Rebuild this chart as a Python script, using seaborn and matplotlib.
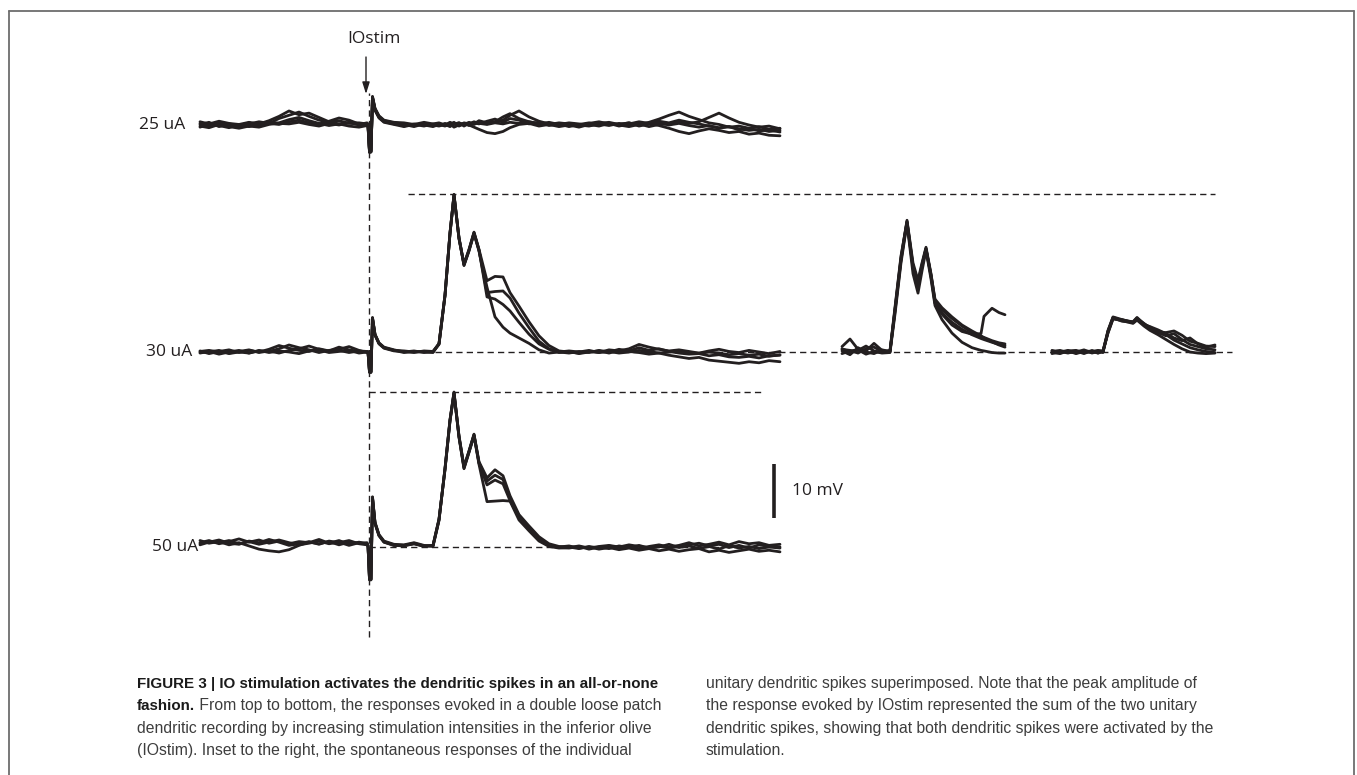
import numpy as np
import pandas as pd
import matplotlib
matplotlib.use("Agg")
import matplotlib.pyplot as plt
import seaborn as sns
from matplotlib.lines import Line2D

sns.set_style("white")
plt.rcParams["font.family"] = ["Open Sans", "DejaVu Sans"]

# ---------------- data (time in ms relative to IO stimulus, voltage in mV) ----------------
T_MAIN = [-16.9, -16, -15, -14, -13, -12, -11, -10, -9, -8, -7, -6, -5, -4, -3, -2, -1, -0.2,
          -0.1, 0.05, 0.2, 0.35, 0.6, 1.0, 1.5, 2.5,
          3.5, 4.5, 5.5, 6.4,
          7.0, 7.6, 8.1, 8.5, 9.0, 9.5, 10.0, 10.5, 11.0, 11.8, 12.6, 13.4, 14.1, 15.0, 16.0, 17.0, 18.0, 19.0,
          20, 21, 22, 23, 24, 25, 26, 27, 28, 29, 30, 31, 32, 33, 34, 35, 36, 37, 38, 39, 40, 41.1]

uA25_a = [0.3, -0.2, 0.4, 0.1, -0.3, 0.2, 0.6, 0.3, 1.2, 1.8, 2.4, 1.6, 0.9, 0.5, 0.8, 0.3, 0.4, 0.2,
          0.1, -5.0, -5.0, 5.2, 3.0, 1.6, 0.8, 0.4,
          0.2, -0.1, 0.3, 0.0,
          -0.2, 0.1, -0.3, 0.2, 0.4, 0.1, 0.5, 0.2, 0.8, 0.4, 0.6, 1.5, 2.1, 1.2, 0.6, 0.3, 0.1, 0.4,
          0.2, -0.1, 0.3, 0.6, 0.2, 0.0, -0.3, 0.1, 0.5, 1.1, 1.8, 2.4, 1.6, 1.0, 0.4, 0.1, -0.4, -0.2, -0.6, -0.3, -0.8, -0.6]
uA25_b = [-0.4, 0.2, -0.1, -0.5, 0.1, -0.3, 0.2, 0.8, 1.6, 2.6, 1.9, 2.2, 1.4, 0.6, 0.2, 0.5, 0.0, 0.3,
          0.0, -5.0, -4.8, 5.0, 2.8, 1.5, 0.7, 0.3,
          -0.2, 0.2, 0.0, -0.3,
          0.1, -0.2, 0.2, -0.4, 0.0, 0.3, -0.1, 0.4, 0.2, 0.7, 1.1, 0.5, 1.2, 0.9, 0.2, 0.5, -0.1, 0.2,
          -0.3, 0.1, 0.4, 0.0, 0.3, -0.2, 0.2, 0.6, 0.3, 0.7, 0.4, 0.9, 0.5, 0.2, -0.2, -0.5, -0.3, -0.9, -0.6, -1.1, -0.9, -1.3]
uA25_c = [0.1, 0.5, -0.3, 0.2, -0.1, 0.4, 0.0, 0.3, 0.1, 0.6, 0.9, 0.4, 0.2, 0.7, 1.3, 0.9, 0.2, -0.1,
          -0.2, -4.9, -4.9, 5.1, 2.9, 1.4, 0.6, 0.2,
          0.1, -0.3, 0.2, 0.1,
          0.3, -0.1, 0.1, 0.5, -0.2, 0.2, 0.0, -0.4, -0.8, -1.4, -1.6, -1.2, -0.5, 0.1, 0.3, -0.2, 0.1, -0.3,
          0.0, -0.4, 0.1, -0.2, 0.3, 0.1, 0.4, 0.0, 0.3, -0.1, -0.6, -1.2, -1.6, -1.1, -0.7, -1.0, -1.4, -1.2, -1.7, -1.5, -1.9, -2.0]
uA25_d = [-0.2, -0.5, 0.1, -0.3, -0.6, -0.2, -0.4, 0.1, 0.4, 1.0, 1.4, 0.8, 0.3, -0.1, 0.2, -0.2, -0.4, -0.1,
          -0.3, -5.1, -5.0, 4.9, 2.7, 1.3, 0.5, 0.1,
          -0.3, 0.1, -0.2, 0.2,
          -0.1, 0.3, 0.0, 0.1, 0.4, -0.2, 0.3, 0.1, 0.5, 0.2, 0.6, 0.9, 1.8, 2.6, 1.5, 0.7, 0.2, -0.1,
          0.3, 0.0, -0.2, 0.2, -0.1, 0.3, 0.0, 0.2, -0.3, 0.1, 0.2, 0.5, 0.3, 0.6, 1.4, 2.2, 1.3, 0.5, 0.0, -0.4, -0.2, -0.7]
uA25_e = [0.6, 0.2, 0.7, 0.3, 0.1, 0.5, 0.2, 0.6, 0.3, 0.2, 0.5, 0.1, -0.2, 0.3, 0.0, 0.4, 0.1, 0.4,
          0.2, -4.8, -4.7, 5.3, 3.1, 1.7, 0.9, 0.5,
          0.4, 0.1, 0.5, 0.2,
          0.4, 0.0, 0.5, 0.2, -0.1, 0.4, 0.2, 0.6, 0.3, 0.1, 0.4, 0.2, 0.5, 0.3, 0.6, 0.2, 0.5, 0.1,
          0.4, 0.2, -0.1, 0.3, 0.5, 0.1, 0.4, -0.2, 0.2, 0.4, 0.0, 0.3, -0.1, -0.4, -0.1, -0.6, -0.3, -0.7, -1.0, -0.8, -1.2, -1.0]

uA30_a = [0.2, -0.3, 0.1, 0.4, -0.1, 0.3, 0.0, 0.5, 1.2, 0.7, 0.3, 0.1, 0.6, 0.2, 0.9, 0.4, 0.1, 0.0,
          0.0, -3.7, -3.7, 6.3, 3.2, 1.6, 0.8, 0.3,
          0.2, 0.0, 0.1, 0.0,
          1.5, 10.5, 22.0, 29.1, 21.0, 16.3, 19.0, 22.2, 19.0, 13.2, 14.0, 13.9, 11.0, 8.5, 5.6, 3.0, 1.2, 0.2,
          0.0, -0.2, 0.1, -0.1, 0.4, 0.2, 0.6, 1.4, 0.9, 0.5, 0.2, 0.4, 0.1, -0.2, 0.2, 0.5, 0.1, -0.1, 0.3, 0.0, -0.3, 0.1]
uA30_b = [-0.2, 0.1, -0.4, 0.0, 0.3, -0.2, 0.2, 0.1, 0.6, 1.3, 0.8, 0.4, -0.1, 0.3, 0.5, 1.0, 0.3, -0.1,
          -0.1, -3.6, -3.6, 6.2, 3.1, 1.5, 0.7, 0.2,
          0.1, -0.1, 0.2, 0.1,
          1.6, 10.6, 22.1, 29.0, 21.2, 16.2, 18.9, 22.0, 18.8, 11.0, 11.2, 11.3, 10.0, 7.2, 4.5, 2.0, 0.6, 0.0,
          -0.2, 0.1, -0.1, 0.3, 0.0, 0.5, 0.2, 0.8, 0.3, 0.6, 0.1, -0.2, -0.4, -0.3, -0.7, -0.5, -0.9, -1.0, -0.8, -1.1, -0.7, -0.6]
uA30_c = [0.1, 0.3, 0.0, -0.2, 0.1, 0.4, -0.1, 0.2, -0.2, 0.3, 0.6, 1.1, 0.5, 0.1, 0.3, -0.1, 0.2, 0.1,
          0.1, -3.8, -3.8, 6.4, 3.3, 1.7, 0.9, 0.4,
          0.0, 0.2, -0.1, 0.1,
          1.4, 10.4, 21.9, 29.2, 21.1, 16.0, 18.8, 22.1, 18.9, 10.2, 9.8, 8.8, 7.6, 5.5, 3.3, 1.5, 0.5, -0.1,
          0.1, -0.3, 0.0, 0.2, -0.2, 0.3, 0.1, -0.1, -0.4, -0.2, -0.6, -0.9, -1.2, -1.0, -1.5, -1.7, -1.9, -2.1, -1.8, -2.0, -1.6, -1.8]
uA30_d = [-0.1, 0.0, 0.3, -0.3, 0.0, -0.2, 0.3, -0.1, 0.2, 0.0, -0.3, 0.2, 0.4, -0.1, 0.1, 0.3, -0.2, 0.0,
          0.0, -3.7, -3.7, 6.2, 3.2, 1.6, 0.8, 0.3,
          -0.1, 0.1, 0.0, -0.1,
          1.5, 10.5, 22.0, 29.0, 21.0, 16.1, 18.7, 21.9, 18.7, 12.0, 6.5, 4.6, 3.5, 2.6, 1.6, 0.4, -0.2, 0.0,
          0.2, 0.0, 0.3, -0.1, 0.1, -0.2, 0.0, 0.3, 0.1, -0.2, 0.0, 0.2, -0.1, -0.3, 0.0, -0.2, -0.5, -0.3, -0.6, -0.4, -0.8, -0.5]

uA50_a = [0.8, 1.2, 0.6, 1.0, 1.5, 0.9, 1.3, 0.7, 1.1, 0.6, 1.0, 0.8, 1.4, 0.7, 1.2, 0.5, 0.9, 0.6,
          0.3, -6.0, -6.0, 9.3, 4.5, 2.2, 1.0, 0.4,
          0.3, 0.7, 0.2, 0.2,
          5.0, 14.5, 23.5, 28.7, 20.5, 14.8, 17.8, 20.9, 15.8, 12.8, 14.3, 13.2, 9.5, 6.0, 3.9, 1.9, 0.6, 0.1,
          0.0, -0.3, 0.1, -0.2, 0.2, -0.1, 0.0, -0.3, 0.1, 0.4, 0.0, 0.3, 0.8, 0.2, 0.5, 0.9, 0.4, 1.0, 0.6, 0.8, 0.3, 0.5]
uA50_b = [0.4, 0.9, 1.3, 0.7, 0.5, 1.1, 0.8, 1.4, 0.9, 0.3, 0.6, 1.0, 0.5, 1.1, 0.8, 1.2, 0.6, 0.4,
          0.2, -5.9, -5.9, 9.1, 4.4, 2.1, 0.9, 0.3,
          0.2, 0.6, 0.1, 0.3,
          5.1, 14.4, 23.4, 28.5, 20.4, 14.6, 17.6, 20.7, 15.6, 12.2, 13.3, 12.5, 9.0, 5.8, 3.6, 1.6, 0.4, -0.1,
          -0.2, 0.1, -0.4, 0.0, -0.3, 0.2, -0.1, 0.3, -0.2, 0.0, 0.5, -0.1, 0.2, -0.3, 0.1, -0.4, 0.3, -0.2, 0.1, -0.3, 0.0, -0.2]
uA50_c = [1.2, 0.7, 1.0, 0.4, 0.8, 0.2, -0.4, -0.7, -0.9, -0.5, 0.3, 0.9, 0.6, 1.0, 0.4, 0.9, 0.7, 0.8,
          0.4, -6.1, -6.1, 9.2, 4.6, 2.3, 1.1, 0.5,
          0.4, 0.8, 0.3, 0.1,
          4.9, 14.6, 23.6, 28.6, 20.6, 14.9, 17.7, 20.8, 15.5, 11.5, 12.4, 11.7, 8.6, 5.5, 3.3, 1.4, 0.2, 0.0,
          0.2, -0.2, 0.0, -0.4, -0.1, -0.5, -0.2, -0.6, -0.3, -0.7, -0.4, -0.8, -0.5, -0.3, -0.9, -0.6, -1.0, -0.7, -0.4, -0.8, -0.6, -0.9]
uA50_d = [0.6, 1.0, 0.8, 1.2, 0.6, 1.0, 0.5, 0.9, 1.3, 0.8, 0.4, 0.7, 1.1, 0.6, 0.9, 0.3, 0.8, 0.5,
          0.2, -6.0, -6.0, 9.0, 4.3, 2.1, 0.9, 0.3,
          0.3, 0.6, 0.2, 0.3,
          5.2, 14.3, 23.3, 28.4, 20.3, 14.5, 17.5, 20.6, 15.3, 8.4, 8.5, 8.6, 8.5, 5.0, 3.0, 1.1, 0.1, -0.2,
          -0.1, 0.2, -0.2, 0.1, 0.3, 0.0, 0.4, 0.1, -0.1, 0.2, -0.2, 0.1, 0.4, 0.7, 0.2, 0.5, -0.1, 0.3, -0.2, 0.4, 0.1, 0.0]

# inset: spontaneous unitary dendritic spikes (time relative to sweep start)
T_SPIKE1 = [0, 0.8, 1.6, 2.4, 3.2, 4.0, 4.8, 5.3, 5.9, 6.5, 7.1, 7.6, 8.0, 8.4, 8.9, 9.3,
            10.0, 11.0, 12.0, 13.0, 13.9, 14.2, 15.0, 15.7, 16.3]
spike1_a = [1.0, 2.4, 0.5, 0.2, 1.6, 0.3, 0.0, 8.0, 17.5, 24.4, 16.5, 13.3, 16.5, 19.4, 14.5, 9.5, 7.8, 6.2, 4.8, 3.6, 2.9, 2.7, 2.1, 1.7, 1.5]
spike1_b = [0.5, 0.3, -0.2, 0.6, 0.9, 0.1, 0.2, 7.5, 17.0, 24.0, 15.5, 12.0, 16.0, 19.2, 14.0, 9.0, 7.2, 5.5, 4.2, 3.2, 2.5, 2.3, 1.8, 1.4, 1.2]
spike1_c = [-0.3, 0.2, 0.4, -0.4, 0.1, -0.2, -0.1, 7.0, 16.5, 23.8, 14.5, 10.9, 15.0, 18.8, 13.5, 8.6, 6.0, 3.5, 1.8, 0.8, 0.3, 0.2, -0.1, -0.2, -0.2]
spike1_d = [0.2, -0.5, 0.8, 0.0, -0.3, 0.4, 0.1, 7.8, 17.2, 24.2, 16.0, 12.5, 15.8, 19.0, 14.2, 9.2, 7.0, 5.0, 3.8, 3.3, 3.4, 6.6, 8.1, 7.3, 6.9]
spike1_e = [0.6, 0.0, 0.3, 1.1, 0.2, -0.1, 0.3, 8.3, 17.8, 24.1, 15.8, 12.8, 16.2, 19.1, 14.3, 9.8, 8.2, 6.5, 5.0, 3.9, 3.0, 2.6, 1.9, 1.3, 0.9]

T_SPIKE2 = [0, 0.8, 1.6, 2.4, 3.2, 4.0, 4.6, 5.1, 5.6, 6.1, 7.0, 8.1, 8.5, 9.2, 9.8,
            10.6, 11.4, 12.2, 13.0, 13.8, 14.6, 15.4, 16.3]
spike2_a = [0.3, -0.2, 0.2, -0.3, 0.1, -0.1, 0.2, 0.0, 3.8, 6.4, 5.9, 5.6, 6.4, 5.2, 4.6, 3.6, 3.0, 3.4, 2.3, 1.4, 1.0, 0.6, 0.4]
spike2_b = [-0.3, 0.1, -0.2, 0.2, -0.3, 0.3, -0.2, 0.1, 3.5, 6.1, 6.0, 5.4, 6.1, 5.0, 4.2, 3.9, 3.2, 2.2, 1.5, 0.8, 0.4, 0.1, -0.1]
spike2_c = [0.1, 0.3, -0.1, 0.0, 0.4, -0.2, 0.1, -0.1, 3.9, 6.3, 5.7, 5.5, 6.2, 5.3, 4.4, 3.7, 3.6, 3.9, 3.1, 2.0, 1.6, 1.1, 1.0]
spike2_d = [-0.1, -0.3, 0.2, 0.3, -0.1, 0.1, -0.2, 0.2, 3.6, 6.2, 5.8, 5.3, 5.9, 4.8, 4.0, 3.2, 2.3, 1.4, 0.6, 0.0, -0.2, -0.3, -0.2]
spike2_e = [0.2, 0.0, 0.3, -0.2, 0.2, 0.1, 0.3, 0.2, 4.0, 6.5, 6.0, 5.5, 6.3, 5.1, 4.7, 4.1, 3.4, 2.6, 2.1, 2.6, 1.5, 0.9, 1.3]

ROW_LABELS = ["25 uA", "30 uA", "50 uA"]
SCALE_BAR_MV = [0, 10]
SCALE_LABEL = "10 mV"
STIM_LABEL = "IOstim"

CAPTION_LEFT = [
    ("FIGURE 3 | IO stimulation activates the dendritic spikes in an all-or-none", ""),
    ("fashion.", " From top to bottom, the responses evoked in a double loose patch"),
    ("", "dendritic recording by increasing stimulation intensities in the inferior olive"),
    ("", "(IOstim). Inset to the right, the spontaneous responses of the individual"),
]
CAPTION_RIGHT = [
    "unitary dendritic spikes superimposed. Note that the peak amplitude of",
    "the response evoked by IOstim represented the sum of the two unitary",
    "dendritic spikes, showing that both dendritic spikes were activated by the",
    "stimulation.",
]

# ---------------- layout ----------------
W, H = 1357, 775
PX_PER_MS, PX_PER_MV, STIM_PX = 10.0, 5.4, 369.0
def tx(px):  # pixel x -> ms
    return (px - STIM_PX) / PX_PER_MS
def vy(py):  # pixel y -> mV (figure coordinate)
    return (H - py) / PX_PER_MV

OFFSETS = {"25 uA": vy(125), "30 uA": vy(352), "50 uA": vy(547)}
INSET1_X0, INSET2_X0 = tx(842), tx(1052)
INK = "#231f20"

fig = plt.figure(figsize=(W / 100, H / 100), dpi=100)
ax = fig.add_axes([0, 0, 1, 1])

rows = []
def add(name, t, v, dx, dy):
    for i, (a, b) in enumerate(zip(t, v)):
        rows.append({"trace": name, "order": i, "t": a + dx, "v": b + dy})

for nm, tr in zip("abcde", [uA25_a, uA25_b, uA25_c, uA25_d, uA25_e]):
    add("25" + nm, T_MAIN, tr, 0, OFFSETS["25 uA"])
for nm, tr in zip("abcd", [uA30_a, uA30_b, uA30_c, uA30_d]):
    add("30" + nm, T_MAIN, tr, 0, OFFSETS["30 uA"])
for nm, tr in zip("abcd", [uA50_a, uA50_b, uA50_c, uA50_d]):
    add("50" + nm, T_MAIN, tr, 0, OFFSETS["50 uA"])
for nm, tr in zip("abcde", [spike1_a, spike1_b, spike1_c, spike1_d, spike1_e]):
    add("s1" + nm, T_SPIKE1, tr, INSET1_X0, OFFSETS["30 uA"])
for nm, tr in zip("abcde", [spike2_a, spike2_b, spike2_c, spike2_d, spike2_e]):
    add("s2" + nm, T_SPIKE2, tr, INSET2_X0, OFFSETS["30 uA"])
df = pd.DataFrame(rows)

sns.lineplot(data=df, x="t", y="v", units="trace", estimator=None, sort=False,
             color=INK, linewidth=2.0, ax=ax, legend=False)
for ln in ax.get_lines():
    ln.set_solid_joinstyle("round")
    ln.set_solid_capstyle("round")
ax.set_xlim(tx(0), tx(W))
ax.set_ylim(vy(H), vy(0))
ax.axis("off")

dash = dict(color=INK, linewidth=1.0, linestyle=(0, (4.5, 3.0)))
# stimulus line
ax.vlines(0, vy(637), vy(93), **dash)
# 30 uA peak and baseline
peak30 = OFFSETS["30 uA"] + max(max(uA30_a), max(uA30_b), max(uA30_c), max(uA30_d))
ax.hlines(peak30, tx(408), tx(1215), **dash)
ax.hlines(OFFSETS["30 uA"], tx(435), tx(1232), **dash)
# 50 uA peak and baseline
peak50 = OFFSETS["50 uA"] + max(max(uA50_a), max(uA50_b), max(uA50_c), max(uA50_d))
ax.hlines(peak50, 0, tx(762), **dash)
ax.hlines(OFFSETS["50 uA"], 0, tx(780), **dash)

# stimulus arrow + label
ax.annotate("", xy=(tx(366), vy(94)), xytext=(tx(366), vy(57)),
            arrowprops=dict(arrowstyle="-|>,head_length=0.7,head_width=0.22", color=INK, lw=1.0,
                            shrinkA=0, shrinkB=0))
ax.text(tx(374), vy(39), STIM_LABEL, ha="center", va="center", fontsize=12.5, color=INK)

# row labels
for lab, xr in zip(ROW_LABELS, [185, 192, 198]):
    ax.text(tx(xr), OFFSETS[lab], lab, ha="right", va="center", fontsize=12.5, color=INK)

# scale bar
sb_base = vy(518)
ax.plot([tx(774), tx(774)], [sb_base + SCALE_BAR_MV[0], sb_base + SCALE_BAR_MV[1]],
        color=INK, linewidth=2.6, solid_capstyle="butt")
ax.text(tx(792), sb_base + 5, SCALE_LABEL, ha="left", va="center", fontsize=12.5, color=INK)

# frame
frame = dict(color="#6d6d6d", linewidth=1.3, transform=fig.transFigure)
fig.add_artist(Line2D([9 / W, 9 / W], [0, 1 - 11 / H], **frame))
fig.add_artist(Line2D([9 / W, 1354 / W], [1 - 11 / H, 1 - 11 / H], **frame))
fig.add_artist(Line2D([1354 / W, 1354 / W], [0, 1 - 11 / H], **frame))

# caption
cap_font = ["Liberation Sans Narrow", "Liberation Sans", "DejaVu Sans"]
fs_bold, fs_reg = 10.9, 11.3
base_y = [688, 710, 733, 755]
fig.canvas.draw()
renderer = fig.canvas.get_renderer()
for (bold, reg), yb in zip(CAPTION_LEFT, base_y):
    x0 = 137 / W
    if bold:
        tb = fig.text(x0, 1 - yb / H, bold, fontsize=fs_bold, fontweight="bold", family=cap_font,
                      color="#1a1a1a", va="baseline", ha="left")
        bb = tb.get_window_extent(renderer)
        x0 = bb.x1 / W
    if reg:
        fig.text(x0, 1 - yb / H, reg, fontsize=fs_reg, family=cap_font, color="#3d3d3d",
                 va="baseline", ha="left")
for line, yb in zip(CAPTION_RIGHT, base_y):
    fig.text(706 / W, 1 - yb / H, line, fontsize=fs_reg, family=cap_font, color="#3d3d3d",
             va="baseline", ha="left")

fig.savefig("out.png", dpi=100)
